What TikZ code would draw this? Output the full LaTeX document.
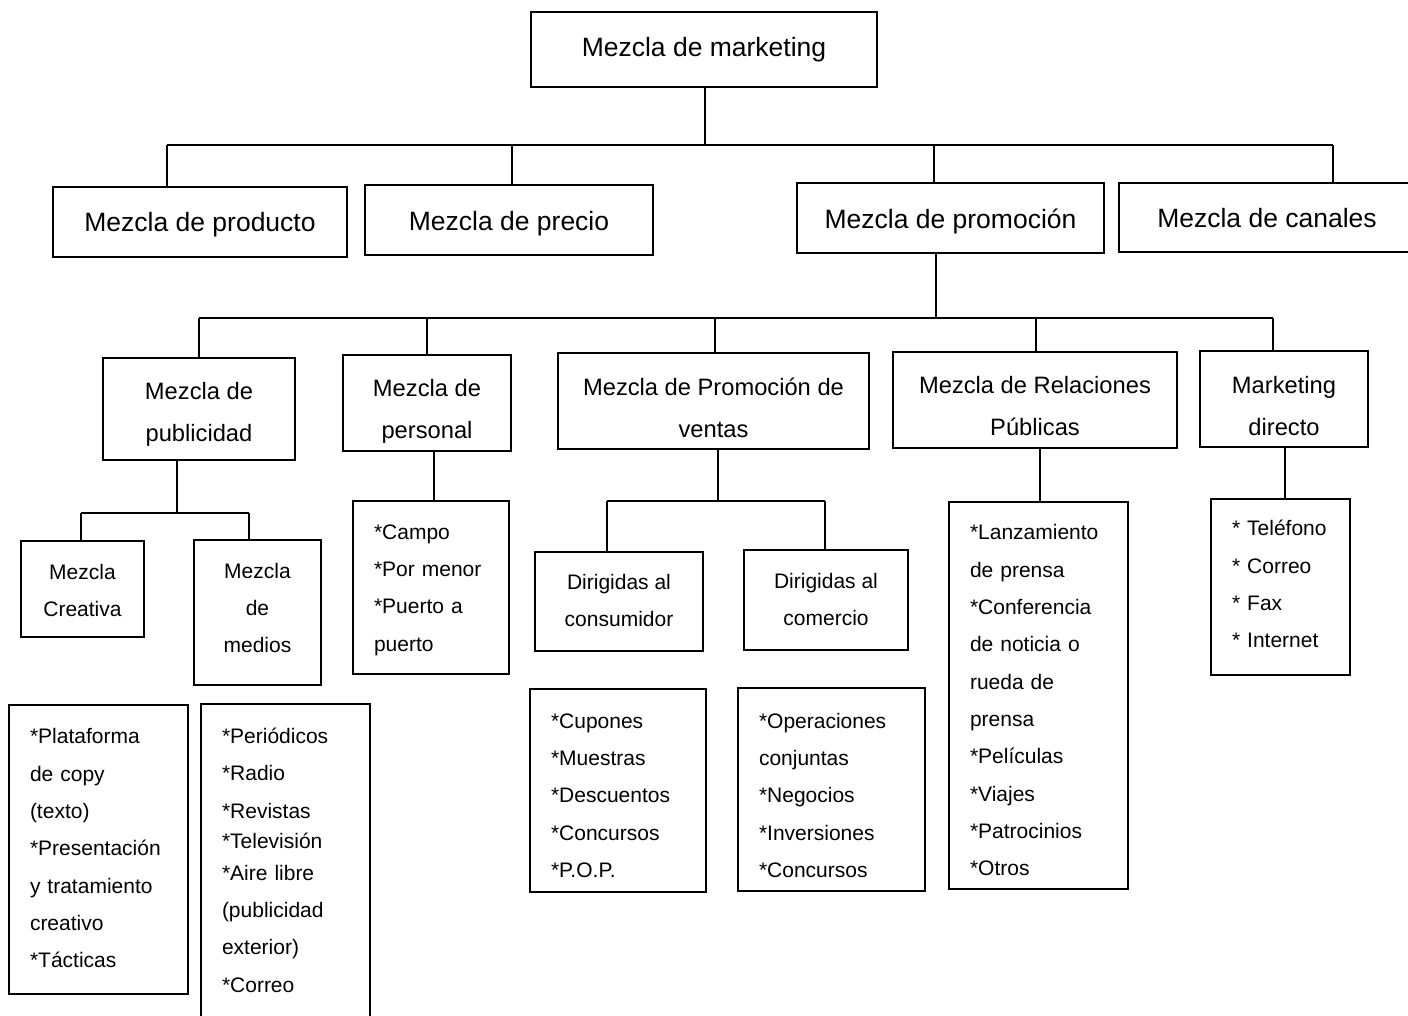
\documentclass[tikz,border=0pt]{standalone}
\usepackage{fontspec}
\setmainfont{Liberation Sans}
\newcommand{\fszA}{\fontsize{26.5}{30}\selectfont}
\newcommand{\fszB}{\fontsize{23.7}{42}\selectfont}
\newcommand{\fszC}{\fontsize{21}{37}\selectfont}
\newcommand{\fszL}{\fontsize{21}{37.3}\selectfont}
\newcommand{\vh}[1]{\rule{0pt}{#1}}
\newcommand{\vd}[1]{\rule[-#1]{0pt}{#1}}
\begin{document}
\begin{tikzpicture}[x=1pt,y=-1pt,
  box/.style={draw, line width=1.6pt, inner sep=0pt, align=center},
  lst/.style={draw, line width=1.6pt, inner xsep=21pt, inner ysep=0pt, align=left, font=\fszL},
  conn/.style={line width=1.4pt}]
\useasboundingbox (0,0) rectangle (1408,1016);

% level 0
\node[box, minimum width=346pt, minimum height=75pt, font=\fszA] (mkt) at (704,49.5)
  {\vh{21.2pt}Mezcla de marketing\vd{6.6pt}};

% level 1
\node[box, minimum width=294pt, minimum height=70pt, font=\fszA] (prod) at (200,222)
  {\vh{26.2pt}Mezcla de producto\vd{6.6pt}};
\node[box, minimum width=288pt, minimum height=70pt, font=\fszA] (prec) at (509,220)
  {\vh{28.2pt}Mezcla de precio\vd{6.6pt}};
\node[box, minimum width=307pt, minimum height=70pt, font=\fszA] (prom) at (950.5,218)
  {\vh{28.2pt}Mezcla de promoción\vd{6.6pt}};
\node[box, minimum width=296pt, minimum height=69pt, font=\fszA] (can) at (1267,217.5)
  {\vh{27.2pt}Mezcla de canales\vd{6.6pt}};

% level 2
\node[box, minimum width=192pt, minimum height=102pt, font=\fszB] (pub) at (199,409)
  {\vh{29.5pt}Mezcla de\\publicidad\vd{5.9pt}};
\node[box, minimum width=168pt, minimum height=96pt, font=\fszB] (pers) at (427,403)
  {\vh{35.5pt}Mezcla de\\personal\vd{5.9pt}};
\node[box, minimum width=311pt, minimum height=96pt, font=\fszB] (pv) at (713.5,401)
  {\vh{37.5pt}Mezcla de Promoción de\\ventas\vd{5.9pt}};
\node[box, minimum width=284pt, minimum height=96pt, font=\fszB] (rp) at (1035,400)
  {\vh{35.5pt}Mezcla de Relaciones\\Públicas\vd{5.9pt}};
\node[box, minimum width=168pt, minimum height=96pt, font=\fszB] (md) at (1284,399)
  {\vh{36.5pt}Marketing\\directo\vd{5.9pt}};

% level 3
\node[box, minimum width=123pt, minimum height=96pt, font=\fszC] (crea) at (82.5,589)
  {\vh{22.85pt}Mezcla\\Creativa\vd{5.25pt}};
\node[box, minimum width=127pt, minimum height=145pt, font=\fszC] (med) at (257.5,612.5)
  {\vh{15.75pt}Mezcla\\de\\medios\vd{9.15pt}};
\node[box, minimum width=168pt, minimum height=99pt, font=\fszC] (cons) at (619,601.5)
  {\vh{18.85pt}Dirigidas al\\consumidor\vd{5.25pt}};
\node[box, minimum width=164pt, minimum height=100pt, font=\fszC] (com) at (826,600)
  {\vh{19.85pt}Dirigidas al\\comercio\vd{5.25pt}};

% lists
\node[lst, text width=114pt, minimum width=156pt, minimum height=173pt] (perslist) at (431,587.5)
  {\vh{20.85pt}*Campo\\{}*Por menor\\{}*Puerto a\\puerto\vd{5.25pt}};
\node[lst, text width=134pt, minimum width=176pt, minimum height=203pt] (conslist) at (618,790.5)
  {\vh{29.85pt}*Cupones\\{}*Muestras\\{}*Descuentos\\{}*Concursos\\{}*P.O.P.\vd{5.25pt}};
\node[lst, text width=145pt, minimum width=187pt, minimum height=203pt] (comlist) at (831.5,789.5)
  {\vh{31.85pt}*Operaciones\\conjuntas\\{}*Negocios\\{}*Inversiones\\{}*Concursos\vd{5.25pt}};
\node[lst, text width=137pt, minimum width=179pt, minimum height=387pt] (rplist) at (1038.5,695.5)
  {\vh{29.85pt}*Lanzamiento\\de prensa\\{}*Conferencia\\de noticia o\\rueda de\\prensa\\{}*Películas\\{}*Viajes\\{}*Patrocinios\\{}*Otros\vd{5.25pt}};
\node[lst, text width=97pt, minimum width=139pt, minimum height=176pt] (mdlist) at (1280.5,587)
  {\vh{15.75pt}* Teléfono\\{}* Correo\\{}* Fax\\{}* Internet\vd{6.15pt}};
\node[lst, text width=137pt, minimum width=179pt, minimum height=289pt] (crealist) at (98.5,849.5)
  {\vh{17.85pt}*Plataforma\\de copy\\(texto)\\{}*Presentación\\y tratamiento\\creativo\\{}*Tácticas\vd{5.25pt}};
\node[lst, text width=127pt, minimum width=169pt, minimum height=316pt] (medlist) at (285.5,862)
  {\vh{16.85pt}*Periódicos\\{}*Radio\\{}*Revistas\\[-7.3pt]{}*Televisión\\[-5.3pt]{}*Aire libre\\(publicidad\\exterior)\\{}*Correo\vd{5.25pt}};

% connectors level 0 -> 1
\coordinate (a0) at (705,145);
\coordinate (a1) at (167,145);
\coordinate (a2) at (512,145);
\coordinate (a3) at (934,145);
\coordinate (a4) at (1333,145);
\draw[conn] (a0 |- mkt.south) -- (a0);
\draw[conn] (a1) -- (a4);
\foreach \c/\n in {a1/prod, a2/prec, a3/prom, a4/can}
  \draw[conn] (\c) -- (\c |- \n.north);

% connectors level 1 -> 2
\coordinate (b0) at (936,318);
\coordinate (b1) at (199,318);
\coordinate (b2) at (427,318);
\coordinate (b3) at (715,318);
\coordinate (b4) at (1036,318);
\coordinate (b5) at (1273,318);
\draw[conn] (b0 |- prom.south) -- (b0);
\draw[conn] (b1) -- (b5);
\foreach \c/\n in {b1/pub, b2/pers, b3/pv, b4/rp, b5/md}
  \draw[conn] (\c) -- (\c |- \n.north);

% publicidad
\coordinate (c0) at (177,513);
\coordinate (c1) at (81,513);
\coordinate (c2) at (249,513);
\draw[conn] (c0 |- pub.south) -- (c0);
\draw[conn] (c1) -- (c2);
\draw[conn] (c1) -- (c1 |- crea.north);
\draw[conn] (c2) -- (c2 |- med.north);

% personal
\coordinate (d0) at (434,480);
\draw[conn] (d0 |- pers.south) -- (d0 |- perslist.north);

% promocion de ventas
\coordinate (e0) at (718,501);
\coordinate (e1) at (607,501);
\coordinate (e2) at (825,501);
\draw[conn] (e0 |- pv.south) -- (e0);
\draw[conn] (e1) -- (e2);
\draw[conn] (e1) -- (e1 |- cons.north);
\draw[conn] (e2) -- (e2 |- com.north);

% relaciones publicas
\coordinate (f0) at (1040,480);
\draw[conn] (f0 |- rp.south) -- (f0 |- rplist.north);

% marketing directo
\coordinate (g0) at (1285,480);
\draw[conn] (g0 |- md.south) -- (g0 |- mdlist.north);
\end{tikzpicture}
\end{document}
